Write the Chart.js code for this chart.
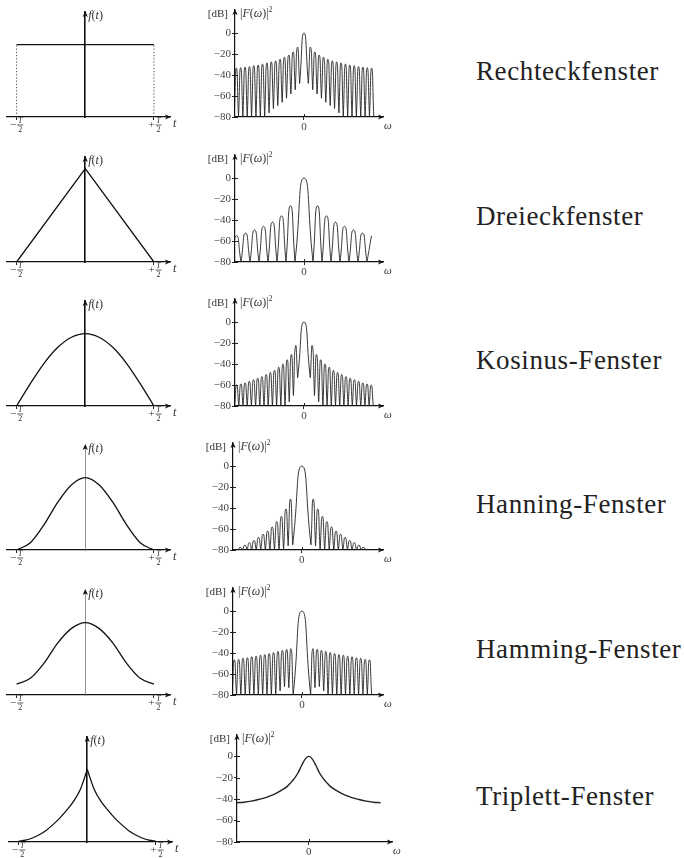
<!DOCTYPE html>
<html>
<head>
<meta charset="utf-8">
<script src="https://cdn.jsdelivr.net/npm/chart.js@4.4.1/dist/chart.umd.min.js"></script>
<style>
  body { margin: 0; background: #fff; }
  #page { position: relative; width: 684px; height: 858px; overflow: hidden; background: #fff; }
  canvas { position: absolute; }
  .name { position: absolute; left: 476px; font-family: "Liberation Serif", serif; font-size: 27px;
          letter-spacing: 0.6px; line-height: 30px; color: #222; white-space: nowrap; }
</style>
</head>
<body>
<div id="page"></div>
<script>
// names of the windows (right column)
const windowNames = ["Rechteckfenster", "Dreieckfenster", "Kosinus-Fenster",
                     "Hanning-Fenster", "Hamming-Fenster", "Triplett-Fenster"];

// time functions f(t), t in units of T
const rectT = [-0.5, 0.5];
const rectF = [1, 1];
const dreieckT = [-0.5, 0, 0.5];
const dreieckF = [0, 1.29, 0];
const bellT = [-0.5, -0.4, -0.3, -0.2, -0.1, 0, 0.1, 0.2, 0.3, 0.4, 0.5];
const cosF = [0, 0.31, 0.59, 0.81, 0.95, 1, 0.95, 0.81, 0.59, 0.31, 0];
const hannF = [0, 0.1, 0.35, 0.66, 0.9, 1, 0.9, 0.66, 0.35, 0.1, 0];
const hammF = [0.15, 0.23, 0.44, 0.72, 0.92, 1, 0.92, 0.72, 0.44, 0.23, 0.15];
const tripT = [-0.5, -0.45, -0.4, -0.35, -0.3, -0.25, -0.2, -0.15, -0.1, -0.05, 0,
               0.05, 0.1, 0.15, 0.2, 0.25, 0.3, 0.35, 0.4, 0.45, 0.5];
const tripF = [0.01, 0.025, 0.055, 0.1, 0.16, 0.24, 0.33, 0.44, 0.56, 0.73, 1,
               0.73, 0.56, 0.44, 0.33, 0.24, 0.16, 0.1, 0.055, 0.025, 0.01];

// spectra |F(w)|^2 in dB
const dbTicks = [-80, -60, -40, -20, 0];
const floorDb = -80;
// side lobe peaks, from the main lobe outwards
const rectPeaks = [-13.5, -18, -21, -23, -25, -26.5, -27.5, -28.5, -29.5, -30.5, -31, -32, -32.5, -33, -33.5];
const dreieckPeaks = [-26.5, -36, -42, -46, -49.5, -52.5, -55];
const cosPeaks = [-23, -31, -36, -40, -43, -46, -48, -50, -52, -53.5, -55, -56.5, -58, -59, -60];
const hannPeaks = [-31.5, -41, -48, -53, -58, -62, -65, -68, -71, -73, -75.5, -77.5, -79.5];
const hammPeaks = [-36, -36.5, -37.5, -38.5, -39.5, -40.5, -41.5, -42, -43, -43.5, -44.5, -45, -46, -46.5];
// depth of the nulls, from the main lobe edge outwards (the rest reach the axis)
const rectNulls = [-48, -54, -58, -62, -66, -69, -72, -76];
const dreieckNulls = [];
const cosNulls = [-53, -70, -76];
const hannNulls = [-75, -76];
const hammNulls = [-80, -73, -72, -76];
// Triplett spectrum is smooth
const tripOmega = [-10, -9, -8, -7, -6, -5, -4, -3, -2.5, -2, -1.5, -1, -0.5, 0,
                   0.5, 1, 1.5, 2, 2.5, 3, 4, 5, 6, 7, 8, 9, 10];
const tripDb = [-43.3, -42.8, -41.8, -40.3, -38.5, -36, -32.5, -28, -24.5, -20.5, -15.5, -8.5, -2.5, 0,
                -2.5, -8.5, -15.5, -20.5, -24.5, -28, -32.5, -36, -38.5, -40.3, -41.8, -42.8, -43.3];

const SERIF = '"Liberation Serif", "DejaVu Serif", serif';
Chart.defaults.font.family = SERIF;
Chart.defaults.color = '#444';

function pts(xs, ys) {
  return xs.map((x, i) => ({ x: x, y: ys[i] }));
}

// lobes: cusp at every null (point given twice), rounded peak in between
function lobePoints(mainHalf, peaks, nulls, nRight) {
  const out = [];
  const depth = k => (k < nulls.length ? nulls[k] : floorDb);
  const cusp = (x, y) => { out.push({ x: x, y: y }, { x: x, y: y }); };
  for (let k = peaks.length; k >= 1; k--) {
    cusp(-(mainHalf + k), depth(k));
    out.push({ x: -(mainHalf + k - 0.5), y: peaks[k - 1] });
  }
  cusp(-mainHalf, depth(0));
  out.push({ x: 0, y: 0 });
  cusp(mainHalf, depth(0));
  for (let k = 1; k <= Math.ceil(nRight); k++) {
    out.push({ x: mainHalf + k - 0.5, y: peaks[k - 1] });
    if (k <= nRight) cusp(mainHalf + k, depth(k));
  }
  return out;
}

function arrowHead(ctx, x, y, dir) {
  ctx.beginPath();
  if (dir === 'right') {
    ctx.moveTo(x + 1, y); ctx.lineTo(x - 5, y - 2.6); ctx.lineTo(x - 3.5, y); ctx.lineTo(x - 5, y + 2.6);
  } else {
    ctx.moveTo(x, y - 1); ctx.lineTo(x - 2.6, y + 5); ctx.lineTo(x, y + 3.5); ctx.lineTo(x + 2.6, y + 5);
  }
  ctx.closePath();
  ctx.fill();
}

function drawRuns(ctx, x, y, runs) {
  ctx.textAlign = 'left';
  for (const [text, font, dy] of runs) {
    ctx.font = font;
    ctx.fillText(text, x, y + (dy || 0));
    x += ctx.measureText(text).width;
  }
}

function fracLabel(ctx, cx, y, sign) {
  ctx.font = '11px ' + SERIF;
  const sw = ctx.measureText(sign).width;
  const fw = 6;
  const x0 = cx - (sw + 1 + fw) / 2;
  ctx.textAlign = 'left';
  ctx.fillText(sign, x0, y);
  const fx = x0 + sw + 1 + fw / 2;
  ctx.textAlign = 'center';
  ctx.font = 'italic 8px ' + SERIF;
  ctx.fillText('T', fx, y - 4);
  ctx.font = '8px ' + SERIF;
  ctx.fillText('2', fx, y + 4.5);
  ctx.fillRect(fx - fw / 2, y - 0.4, fw, 0.8);
}

// arrows and axis texts
const decor = {
  id: 'decor',
  afterDraw(chart, args, opts) {
    const { ctx, chartArea: a } = chart;
    const xs = chart.scales.x, ys = chart.scales.y;
    const ax = opts.time ? xs.getPixelForValue(0) : a.left;
    const by = a.bottom;
    const it12 = 'italic 12px ' + SERIF, rm12 = '12px ' + SERIF;
    ctx.save();
    ctx.fillStyle = '#111';
    arrowHead(ctx, a.right, by, 'right');
    arrowHead(ctx, ax, a.top, 'up');
    ctx.textBaseline = 'middle';
    ctx.fillStyle = '#333';
    if (opts.time) {
      drawRuns(ctx, ax + 3, a.top + 4, [['f', it12], ['(', rm12], ['t', it12], [')', rm12]]);
      drawRuns(ctx, a.right + 3, by + 7, [['t', it12]]);
      fracLabel(ctx, xs.getPixelForValue(-0.5), by + 8, '\u2212');
      fracLabel(ctx, xs.getPixelForValue(0.5) + 1, by + 8, '+');
    } else {
      ctx.strokeStyle = '#222';
      ctx.lineWidth = 1;
      ctx.beginPath();
      dbTicks.forEach(v => {
        const py = Math.round(ys.getPixelForValue(v)) + 0.5;
        ctx.moveTo(a.left, py); ctx.lineTo(a.left + 3, py);
      });
      const px0 = Math.round(xs.getPixelForValue(0)) + 0.5;
      ctx.moveTo(px0, by); ctx.lineTo(px0, by - 3);
      ctx.stroke();
      ctx.font = '11px ' + SERIF;
      ctx.textAlign = 'right';
      ctx.fillText('[dB]', ax - 7, a.top + 4);
      drawRuns(ctx, ax + 5, a.top + 4, [['|', rm12], ['F', it12], ['(', rm12], ['\u03c9', it12],
        [')', rm12], ['|', rm12], ['2', '8px ' + SERIF, -4]]);
      drawRuns(ctx, a.right + 1, by + 9, [['\u03c9', 'italic 11px ' + SERIF]]);
    }
    ctx.restore();
  }
};

const page = document.getElementById('page');
const rowTops = [0, 145, 289, 433, 578, 725];

function makeCanvas(left, top, w, h) {
  const c = document.createElement('canvas');
  c.width = w; c.height = h;
  c.style.left = left + 'px'; c.style.top = top + 'px';
  page.appendChild(c);
  return c;
}

function timeChart(canvas, datasets, axis) {
  return new Chart(canvas, {
    type: 'line',
    data: { datasets: datasets },
    options: {
      responsive: false, animation: false, devicePixelRatio: 1,
      layout: { padding: { left: 7, right: 20, top: 12, bottom: 12 } },
      plugins: { legend: { display: false }, tooltip: { enabled: false }, decor: { time: true } },
      elements: { point: { radius: 0 }, line: { borderColor: '#111', borderWidth: 1.3 } },
      scales: {
        x: {
          type: 'linear', min: -0.57, max: 0.617,
          afterBuildTicks: s => { s.ticks = [{ value: -0.5 }, { value: 0.5 }]; },
          afterFit: s => { s.height = 16; },
          ticks: { display: false },
          grid: { drawOnChartArea: false, tickLength: 3, color: '#222' },
          border: { color: '#111', width: 1.2 }
        },
        y: {
          type: 'linear', min: 0, max: 1.45, position: { x: 0 },
          ticks: { display: false }, grid: { display: false },
          border: { color: axis.color, width: axis.width }
        }
      }
    },
    plugins: [decor]
  });
}

function spectrumChart(canvas, spec) {
  return new Chart(canvas, {
    type: 'line',
    data: {
      datasets: [{
        data: spec.data, borderColor: '#222', borderWidth: spec.smooth ? 1.4 : 0.9, pointRadius: 0,
        tension: spec.smooth ? 0.4 : 0.65, cubicInterpolationMode: spec.smooth ? 'monotone' : 'default'
      }]
    },
    options: {
      responsive: false, animation: false, devicePixelRatio: 1,
      layout: { padding: { left: 0, right: spec.padRight, top: 10, bottom: 12 } },
      plugins: { legend: { display: false }, tooltip: { enabled: false }, decor: { time: false } },
      scales: {
        x: {
          type: 'linear', min: spec.min, max: spec.max,
          afterBuildTicks: s => { s.ticks = [{ value: 0 }]; },
          afterFit: s => { s.height = 16; },
          ticks: { font: { size: 11 }, padding: 1, color: '#444', callback: v => String(v) },
          grid: { drawOnChartArea: false, tickLength: 3, color: '#222' },
          border: { color: '#111', width: 1.2 }
        },
        y: {
          type: 'linear', min: floorDb, max: spec.yMax,
          afterBuildTicks: s => { s.ticks = dbTicks.map(v => ({ value: v })); },
          afterFit: s => { s.width = 35; },
          ticks: { font: { size: 11 }, padding: 1, color: '#444',
                   callback: v => (v < 0 ? '\u2212' + (-v) : String(v)) },
          grid: { drawOnChartArea: false, tickLength: 3, color: '#222' },
          border: { color: '#111', width: 1.2 }
        }
      }
    },
    plugins: [decor]
  });
}

const dotted = { borderDash: [1.2, 2], borderWidth: 1, borderColor: '#444' };
const timeSets = [
  [
    { data: pts(rectT, rectF), tension: 0 },
    Object.assign({ data: [{ x: rectT[0], y: 0 }, { x: rectT[0], y: rectF[0] }] }, dotted),
    Object.assign({ data: [{ x: rectT[1], y: 0 }, { x: rectT[1], y: rectF[1] }] }, dotted)
  ],
  [{ data: pts(dreieckT, dreieckF), tension: 0 }],
  [{ data: pts(bellT, cosF), cubicInterpolationMode: 'monotone' }],
  [{ data: pts(bellT, hannF), cubicInterpolationMode: 'monotone' }],
  [{ data: pts(bellT, hammF), cubicInterpolationMode: 'monotone' }],
  [
    { data: pts(tripT.slice(0, 11), tripF.slice(0, 11)), cubicInterpolationMode: 'monotone' },
    { data: pts(tripT.slice(10), tripF.slice(10)), cubicInterpolationMode: 'monotone' }
  ]
];
const timeAxis = [
  { color: '#111', width: 1.6 }, { color: '#111', width: 1.6 }, { color: '#111', width: 1.6 },
  { color: '#777', width: 0.8 }, { color: '#777', width: 0.8 }, { color: '#111', width: 1.6 }
];
const timeLeft = [0, 0, 0, 0, 0, 2];

const spectra = [
  { data: lobePoints(1, rectPeaks, rectNulls, 15), min: -15.8, max: 18.1, left: 200, padRight: 17, yMax: 22 },
  { data: lobePoints(1, dreieckPeaks, dreieckNulls, 6.5), min: -7.67, max: 8.78, left: 200, padRight: 17, yMax: 22 },
  { data: lobePoints(1.5, cosPeaks, cosNulls, 15), min: -16.4, max: 18.8, left: 200, padRight: 17, yMax: 22 },
  { data: lobePoints(2, hannPeaks, hannNulls, 12), min: -15.1, max: 17.8, left: 198, padRight: 15, yMax: 22 },
  { data: lobePoints(2, hammPeaks, hammNulls, 14), min: -15.8, max: 18.6, left: 198, padRight: 15, yMax: 22 },
  { data: pts(tripOmega, tripDb), min: -10, max: 11.6, left: 202, padRight: 10, yMax: 20, smooth: true }
];

rowTops.forEach((top, i) => {
  timeChart(makeCanvas(timeLeft[i], top, 190, 145), timeSets[i], timeAxis[i]);
  spectrumChart(makeCanvas(spectra[i].left, top, 200, 145), spectra[i]);
  const d = document.createElement('div');
  d.className = 'name';
  d.style.top = (top + 56) + 'px';
  d.textContent = windowNames[i];
  page.appendChild(d);
});
</script>
</body>
</html>
